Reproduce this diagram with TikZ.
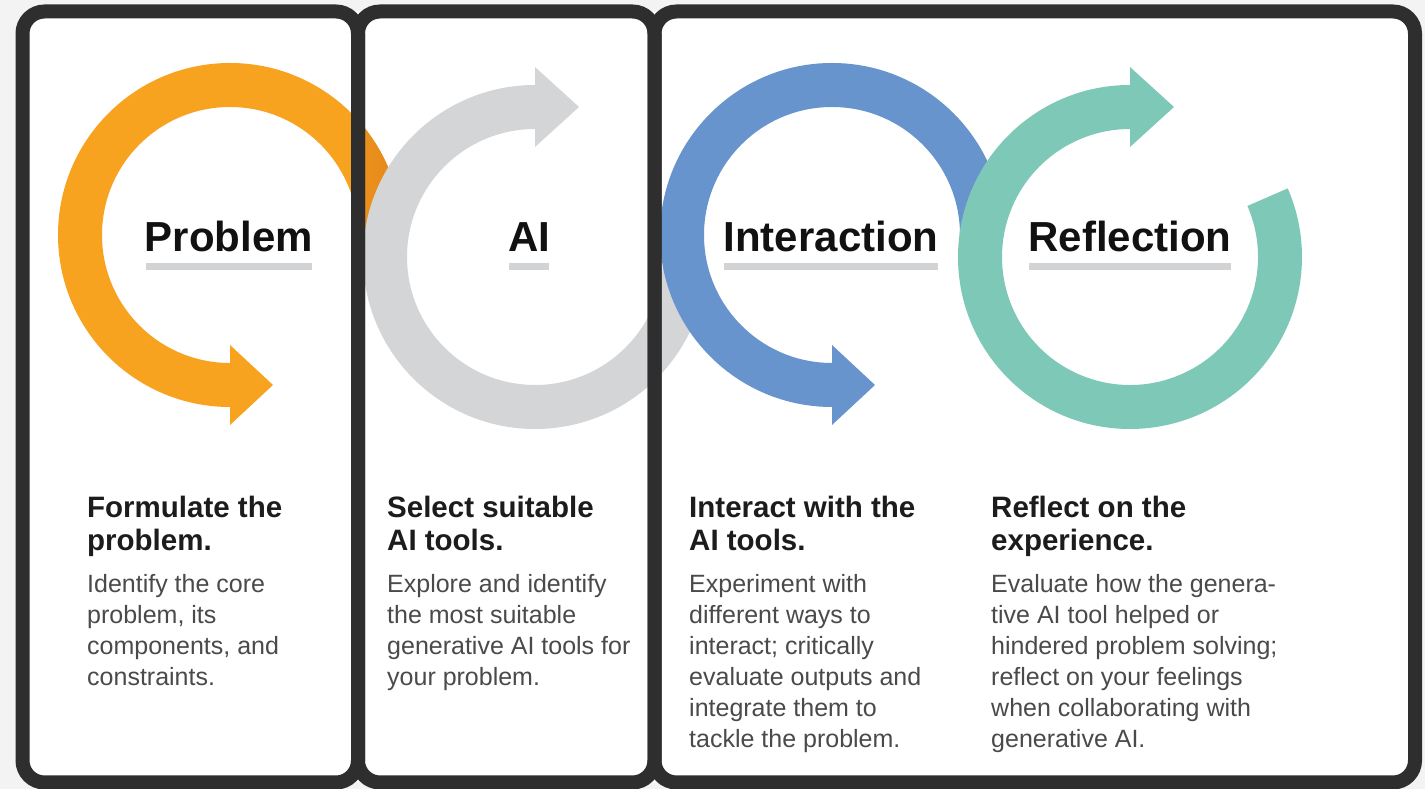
\documentclass[tikz,border=0pt]{standalone}
\usepackage{fontspec}
\setmainfont{Liberation Sans}
\usetikzlibrary{calc}
\definecolor{orangeA}{HTML}{F8A320}
\definecolor{orangeD}{HTML}{E4861A}
\definecolor{grayA}{HTML}{D4D5D7}
\definecolor{blueA}{HTML}{6794CD}
\definecolor{tealA}{HTML}{7DC8B6}
\definecolor{barc}{HTML}{D2D3D5}
\definecolor{framec}{HTML}{2E2E2E}
\definecolor{bgc}{HTML}{F3F3F3}
\definecolor{headc}{HTML}{111111}
\definecolor{titlec}{HTML}{1C1C1C}
\definecolor{bodyc}{HTML}{4A4A4A}
\begin{document}
\begin{tikzpicture}[x=1pt,y=1pt,
  heading/.style={font=\bfseries\fontsize{42}{50}\selectfont, text=headc, inner sep=0pt, anchor=base},
  ttl/.style={font=\bfseries\fontsize{29.5}{33}\selectfont, text=titlec, inner sep=0pt, anchor=base west},
  body/.style={font=\fontsize{25}{31}\selectfont, text=bodyc, inner sep=0pt, anchor=base west},
  frame/.style={draw=framec, line width=14pt, rounded corners=22pt},
  bar/.style={fill=barc}]
\useasboundingbox (0,0) rectangle (1425,789);
\fill[bgc] (0,0) rectangle (1425,789);
\fill[white, rounded corners=16pt] (22.5,6.5) rectangle (1415,777.5);

% centres of the ring arrows
\coordinate (oc) at (230,554);
\coordinate (gc) at (535,532);
\coordinate (bc) at (832,554);
\coordinate (tc) at (1130,532);

% orange ring (Problem)
\fill[orangeA] ($(oc)+(2:172)$) arc[start angle=2, end angle=270, radius=172]
  -- ($(oc)+(270:128)$) arc[start angle=270, end angle=2, radius=128] -- cycle;
\fill[orangeA] ($(oc)+(0,-110)$) -- ($(oc)+(0,-190)$) -- ($(oc)+(43,-150)$) -- cycle;
\begin{scope}
  \clip (362,520) rectangle (420,660);
  \shade[left color=orangeA, right color=orangeD] ($(oc)+(2:172)$) arc[start angle=2, end angle=60, radius=172]
    -- ($(oc)+(60:128)$) arc[start angle=60, end angle=2, radius=128] -- cycle;
\end{scope}

% gray ring (AI)
\fill[grayA] ($(gc)+(90:172)$) arc[start angle=90, end angle=358, radius=172]
  -- ($(gc)+(358:128)$) arc[start angle=358, end angle=90, radius=128] -- cycle;
\fill[grayA] ($(gc)+(0,110)$) -- ($(gc)+(0,190)$) -- ($(gc)+(44,150)$) -- cycle;

% blue ring (Interaction)
\fill[blueA] ($(bc)+(0:172)$) arc[start angle=0, end angle=270, radius=172]
  -- ($(bc)+(270:128)$) arc[start angle=270, end angle=0, radius=128] -- cycle;
\fill[blueA] ($(bc)+(0,-110)$) -- ($(bc)+(0,-190)$) -- ($(bc)+(43,-150)$) -- cycle;

% teal ring (Reflection)
\fill[tealA] ($(tc)+(90:172)$) arc[start angle=90, end angle=383.5, radius=172]
  -- ($(tc)+(383.5:128)$) arc[start angle=383.5, end angle=90, radius=128] -- cycle;
\fill[tealA] ($(tc)+(0,110)$) -- ($(tc)+(0,190)$) -- ($(tc)+(44,150)$) -- cycle;

% headings
\node[heading] (hp) at (229,537) {Problem};
\node[heading] (ha) at (529,537) {AI};
\node[heading] (hi) at (831,537) {Interaction};
\node[heading] (hr) at (1130,537) {Reflection};
\foreach \h in {hp,ha,hi,hr}
  \fill[bar] ($(\h.base west)+(1,-11)$) rectangle ($(\h.base east)+(-1,-18)$);

% column 1
\node[ttl] (p-t1) at (87,271) {Formulate the};
\node[ttl] (p-t2) at (87,238) {problem.};
\node[body] (p-b1) at (87,196) {Identify the core};
\node[body] (p-b2) at (87,165) {problem, its};
\node[body] (p-b3) at (87,134) {components, and};
\node[body] (p-b4) at (87,103) {constraints.};

% column 2
\node[ttl] (a-t1) at (387,271) {Select suitable};
\node[ttl] (a-t2) at (387,238) {AI tools.};
\node[body] (a-b1) at (387,196) {Explore and identify};
\node[body] (a-b2) at (387,165) {the most suitable};
\node[body] (a-b3) at (387,134) {generative AI tools for};
\node[body] (a-b4) at (387,103) {your problem.};

% column 3
\node[ttl] (i-t1) at (689,271) {Interact with the};
\node[ttl] (i-t2) at (689,238) {AI tools.};
\node[body] (i-b1) at (689,196) {Experiment with};
\node[body] (i-b2) at (689,165) {different ways to};
\node[body] (i-b3) at (689,134) {interact; critically};
\node[body] (i-b4) at (689,103) {evaluate outputs and};
\node[body] (i-b5) at (689,72) {integrate them to};
\node[body] (i-b6) at (689,41) {tackle the problem.};

% column 4
\node[ttl] (r-t1) at (991,271) {Reflect on the};
\node[ttl] (r-t2) at (991,238) {experience.};
\node[body] (r-b1) at (991,196) {Evaluate how the genera-};
\node[body] (r-b2) at (991,165) {tive AI tool helped or};
\node[body] (r-b3) at (991,134) {hindered problem solving;};
\node[body] (r-b4) at (991,103) {reflect on your feelings};
\node[body] (r-b5) at (991,72) {when collaborating with};
\node[body] (r-b6) at (991,41) {generative AI.};

% frames
\draw[frame] (22.5,6.5) rectangle (358,777.5);
\draw[frame] (358,6.5) rectangle (654.5,777.5);
\draw[frame] (654.5,6.5) rectangle (1415,777.5);
\end{tikzpicture}
\end{document}
